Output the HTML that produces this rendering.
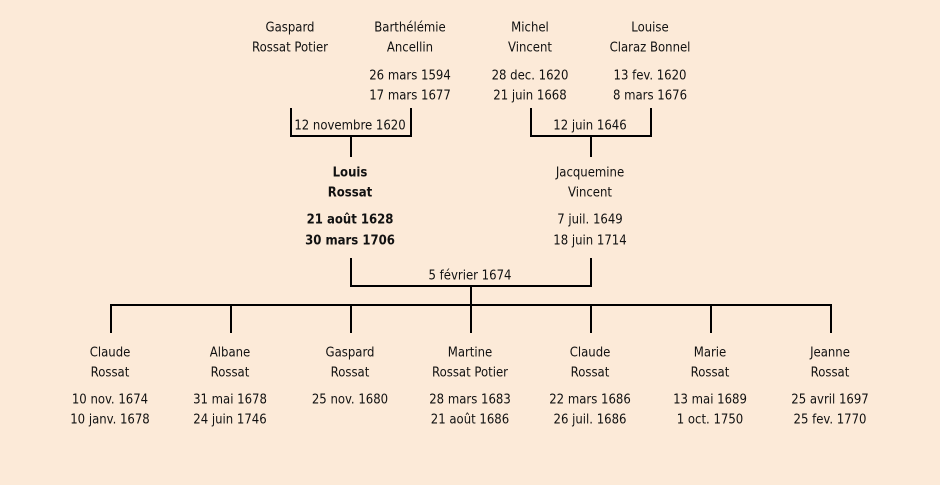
<!DOCTYPE html>
<html><head><meta charset="utf-8"><style>
html,body{margin:0;padding:0;background:#fcead8;}
svg{display:block}
text{font-family:"Comic Sans MS","DejaVu Sans Condensed","Liberation Sans",sans-serif;font-size:13px;fill:#111;text-anchor:middle;dominant-baseline:middle}
.b{font-weight:bold}
</style></head><body>
<svg width="940" height="485" viewBox="0 0 940 485">
<rect width="940" height="485" fill="#fcead8"/>
<g stroke="#000" stroke-width="2" fill="none">
<path d="M291 108V136H411V108M351 136V157"/>
<path d="M531 108V136H651V108M591 136V157"/>
<path d="M351 258V286H591V258M471 286V305"/>
<path d="M111 333V305H831V333M231 305V333M351 305V333M471 305V333M591 305V333M711 305V333"/>
</g>
<g transform="translate(0,1)">
<text x="290" y="27">Gaspard</text><text x="290" y="47">Rossat Potier</text>
<text x="410" y="27">Barthélémie</text><text x="410" y="47">Ancellin</text>
<text x="410" y="75">26 mars 1594</text><text x="410" y="95">17 mars 1677</text>
<text x="530" y="27">Michel</text><text x="530" y="47">Vincent</text>
<text x="530" y="75">28 dec. 1620</text><text x="530" y="95">21 juin 1668</text>
<text x="650" y="27">Louise</text><text x="650" y="47">Claraz Bonnel</text>
<text x="650" y="75">13 fev. 1620</text><text x="650" y="95">8 mars 1676</text>
<text x="350" y="125">12 novembre 1620</text>
<text x="590" y="125">12 juin 1646</text>
<text class="b" x="350" y="172">Louis</text><text class="b" x="350" y="192">Rossat</text>
<text class="b" x="350" y="219">21 août 1628</text><text class="b" x="350" y="240">30 mars 1706</text>
<text x="590" y="172">Jacquemine</text><text x="590" y="192">Vincent</text>
<text x="590" y="219">7 juil. 1649</text><text x="590" y="240">18 juin 1714</text>
<text x="470" y="275">5 février 1674</text>
<text x="110" y="352">Claude</text><text x="110" y="372">Rossat</text>
<text x="110" y="399">10 nov. 1674</text><text x="110" y="419">10 janv. 1678</text>
<text x="230" y="352">Albane</text><text x="230" y="372">Rossat</text>
<text x="230" y="399">31 mai 1678</text><text x="230" y="419">24 juin 1746</text>
<text x="350" y="352">Gaspard</text><text x="350" y="372">Rossat</text>
<text x="350" y="399">25 nov. 1680</text>
<text x="470" y="352">Martine</text><text x="470" y="372">Rossat Potier</text>
<text x="470" y="399">28 mars 1683</text><text x="470" y="419">21 août 1686</text>
<text x="590" y="352">Claude</text><text x="590" y="372">Rossat</text>
<text x="590" y="399">22 mars 1686</text><text x="590" y="419">26 juil. 1686</text>
<text x="710" y="352">Marie</text><text x="710" y="372">Rossat</text>
<text x="710" y="399">13 mai 1689</text><text x="710" y="419">1 oct. 1750</text>
<text x="830" y="352">Jeanne</text><text x="830" y="372">Rossat</text>
<text x="830" y="399">25 avril 1697</text><text x="830" y="419">25 fev. 1770</text>
</g>
</svg>
</body></html>
